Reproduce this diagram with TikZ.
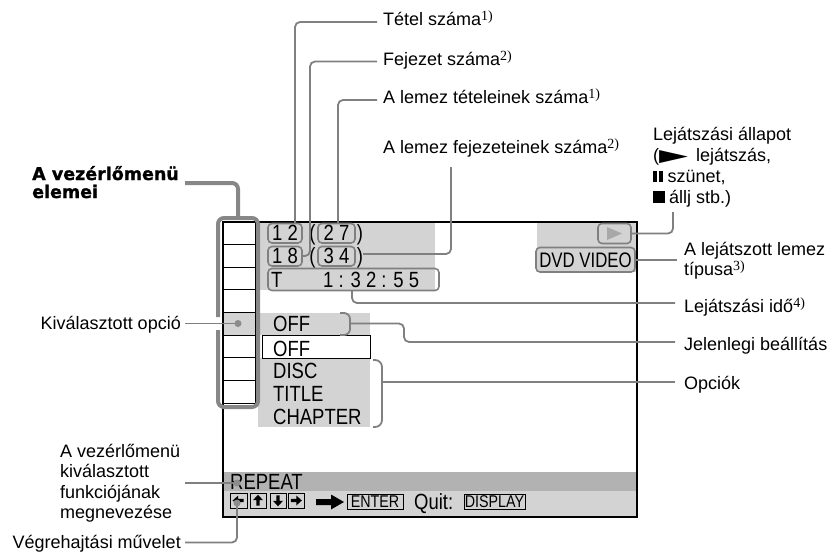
\documentclass[tikz,border=0pt]{standalone}
\usepackage{fontspec}
\usepackage{graphicx}
\setmainfont{Liberation Sans}
\newfontfamily\scr[FakeStretch=0.84]{Liberation Sans}
\newfontfamily\scrn[FakeStretch=0.8]{Liberation Sans}
\newfontfamily\dvs{DejaVu Sans}
\newfontfamily\dvsheavy[FakeBold=1.2]{DejaVu Sans Bold}
\newfontfamily\sersup{Liberation Serif}
\newcommand\fn[1]{\raisebox{5pt}{\sersup\fontsize{14}{14}\selectfont #1}}
\definecolor{scrgray}{RGB}{211,211,211}
\definecolor{repgray}{RGB}{178,178,178}
\definecolor{brkgray}{RGB}{135,135,135}
\definecolor{leadgray}{RGB}{128,128,128}
\definecolor{boxgray}{RGB}{128,128,128}
\definecolor{dotgray}{RGB}{140,140,140}
\definecolor{trigray}{RGB}{168,168,168}
\tikzset{
  lbl/.style={inner sep=0pt, font=\fontsize{18}{20.5}\selectfont, anchor=base west},
  lblr/.style={lbl, anchor=base east},
  boldlbl/.style={inner sep=0pt, font=\dvsheavy\fontsize{17.5}{18.5}\selectfont, anchor=base west},
  scrtxt/.style={inner sep=0pt, font=\scr\fontsize{22}{23}\selectfont, anchor=base west},
  scrc/.style={scrtxt, anchor=base},
  smallbtn/.style={inner sep=0pt, font=\scr\fontsize{17}{18}\selectfont, anchor=base},
  lead/.style={draw=leadgray, line width=1.8pt, rounded corners=5pt},
  brk/.style={draw=brkgray, line width=4pt, rounded corners=6pt},
  rbox/.style={draw=boxgray, line width=1.6pt, rounded corners=4pt},
  cell/.style={draw=black, line width=1pt},
  btn/.style={draw=black, line width=0.9pt},
  dot/.style={fill=dotgray},
  kbarrow/.pic={\fill (0,-5.8) -- (5,-0.3) -- (1.7,-0.3) -- (1.7,5.2) -- (-1.7,5.2) -- (-1.7,-0.3) -- (-5,-0.3) -- cycle;}
}
\begin{document}
\begin{tikzpicture}[x=1pt,y=-1pt]
\useasboundingbox (0,0) rectangle (835,554);
% ---------- screen backgrounds ----------
\fill[scrgray] (258,222) rectangle (435,290);
\fill[scrgray] (537,222) rectangle (637,272);
\fill[scrgray] (258,312.5) rectangle (370,335);
\fill[scrgray] (258,358) rectangle (370,427);
\fill[repgray] (223,472) rectangle (637,491);
\fill[scrgray] (223,491) rectangle (637,517);
\fill[scrgray] (223,312.5) rectangle (255,335);
% ---------- frame and menu cells ----------
\draw[line width=1.3pt] (223,222) rectangle (637,517);
\foreach \i in {0,...,7} {
  \draw[cell] (223,{222+22.625*\i}) rectangle (255,{222+22.625*(\i+1)});
}
\draw[black, line width=1pt, fill=white] (262,335) rectangle (370,358);
% ---------- rounded boxes, top rows ----------
\draw[rbox] (268,223.5) rectangle (302,243);
\draw[rbox] (318,223.5) rectangle (355,243);
\draw[rbox] (268,246.5) rectangle (302,266);
\draw[rbox] (318,246.5) rectangle (355,266);
\draw[rbox] (268,268.5) rectangle (439,290.5);
\node[scrc] (n12) at (285,240.5) {1 2};
\node[scrc] (p1) at (312.5,240.5) {(};
\node[scrc] (n27) at (336.5,240.5) {2 7};
\node[scrc] (q1) at (360,240.5) {)};
\node[scrc] (n18) at (285,263.5) {1 8};
\node[scrc] (p2) at (312.5,263.5) {(};
\node[scrc] (n34) at (336.5,263.5) {3 4};
\node[scrc] (q2) at (360,263.5) {)};
\node[scrtxt] (tt) at (271,287.5) {T};
\node[scrtxt] (time) at (323,287.5) {1 : 3 2 : 5 5};
% play status and disc type
\draw[rbox] (598,223.5) rectangle (631,243.5);
\fill[trigray] (607,227) -- (607,240) -- (622,233.5) -- cycle;
\draw[rbox] (536,247.5) rectangle (635,272);
\node[inner sep=0pt, font=\scrn\fontsize{21}{23}\selectfont, anchor=base] (dvd) at (585.5,267) {DVD VIDEO};
% ---------- options ----------
\node[scrtxt] (off1) at (273,331.5) {OFF};
\node[scrtxt] (off2) at (273,356) {OFF};
\node[scrtxt] (disc) at (273,378.5) {DISC};
\node[scrtxt] (title) at (273,401.5) {TITLE};
\node[scrtxt] (chap) at (273,424.5) {CHAPTER};
% ---------- bottom bar ----------
\node[scrtxt] (rep) at (230,489) {REPEAT};
\draw[btn] (230,493) rectangle (247,508);
\draw[btn] (250,493) rectangle (266,508);
\draw[btn] (270,493) rectangle (286,508);
\draw[btn] (288,493) rectangle (304,508);
\pic[rotate=90] at (238.5,500.5) {kbarrow};
\pic at (258,500.5) {kbarrow};
\pic[rotate=180] at (278,500.5) {kbarrow};
\pic[rotate=-90] at (296,500.5) {kbarrow};
\fill (316,499) -- (331,499) -- (331,494.5) -- (344,502) -- (331,509.5) -- (331,505) -- (316,505) -- cycle;
\draw[btn] (347,494.5) rectangle (403,509.5);
\node[smallbtn] (enter) at (375,507.5) {ENTER};
\node[scrtxt] (quit) at (414,509) {Quit:};
\draw[btn] (464,494.5) rectangle (525,509.5);
\node[smallbtn] (disp) at (494.5,507.5) {DISPLAY};
% ---------- menu bracket ----------
\draw[brk] (218,317) -- (218,218) -- (258,218) -- (258,407) -- (218,407) -- (218,330);
\draw[brk] (238,218) -- (238,183) -- (185,183);
% ---------- labels ----------
\node[boldlbl] (menu1) at (32,180) {A vezérlőmenü};
\node[boldlbl] (menu2) at (32,198) {elemei};
\node[lblr] (kiv) at (181,329) {Kiválasztott opció};
\node[lbl] (f1) at (60,457) {A vezérlőmenü};
\node[lbl] (f2) at (60,477) {kiválasztott};
\node[lbl] (f3) at (60,498) {funkciójának};
\node[lbl] (f4) at (60,518) {megnevezése};
\node[lblr] (veg) at (181,548.5) {Végrehajtási művelet};
\node[lbl] (tetel) at (383,25) {Tétel száma\fn{1)}};
\node[lbl] (fej) at (383,65) {Fejezet száma\fn{2)}};
\node[lbl] (ltet) at (383,103) {A lemez tételeinek száma\fn{1)}};
\node[lbl] (lfej) at (383,153) {A lemez fejezeteinek száma\fn{2)}};
\node[lbl] (st1) at (653,140) {Lejátszási állapot};
\node[lbl] (st2) at (653,161) {(\resizebox{29pt}{11pt}{\dvs ▶}\hspace{8pt}lejátszás,};
\node[lbl] (st3) at (653,182) {\rule{4pt}{11.5pt}\hspace{2pt}\rule{4pt}{11.5pt}\hspace{4.5pt}szünet,};
\node[lbl] (st4) at (653,203) {\rule{11.5pt}{12pt}\hspace{4.5pt}állj stb.)};
\node[lbl] (typ1) at (684,255) {A lejátszott lemez};
\node[lbl] (typ2) at (684,275) {típusa\fn{3)}};
\node[lbl] (ido) at (684,312) {Lejátszási idő\fn{4)}};
\node[lbl] (jel) at (684,350) {Jelenlegi beállítás};
\node[lbl] (opc) at (684,389) {Opciók};
% ---------- leaders ----------
\draw[lead] (377,22) -- (295,22) -- (295,223.5);
\draw[lead] (377,61.5) -- (310,61.5) -- (310,256) -- (302,256);
\draw[lead] (377,100) -- (338,100) -- (338,223.5);
\draw[lead] (451,167) -- (451,254) -- (363,254);
\draw[lead] (352,290.5) -- (352,303) -- (675,303);
\draw[lead, rounded corners=6pt] (340,313) -- (350,313) -- (350,335) -- (340,335);
\draw[lead] (350,323.5) -- (404,323.5) -- (404,342) -- (675,342);
\draw[lead, rounded corners=7pt] (373,360) -- (382,360) -- (382,427) -- (373,427);
\draw[lead] (382,382) -- (675,382);
\draw[lead] (631,233.5) -- (673,233.5) -- (673,212);
\draw[lead] (635,260) -- (677,260);
\draw[lead] (185,323.5) -- (238,323.5);
\fill[dot] (238,323.5) circle (3.5);
\draw[lead] (185,483) -- (237,483);
\fill[dot] (237,483) circle (3.5);
\draw[lead] (185,542.5) -- (237,542.5) -- (237,503);
\fill[dot] (237,503) circle (3.5);
\end{tikzpicture}
\end{document}
